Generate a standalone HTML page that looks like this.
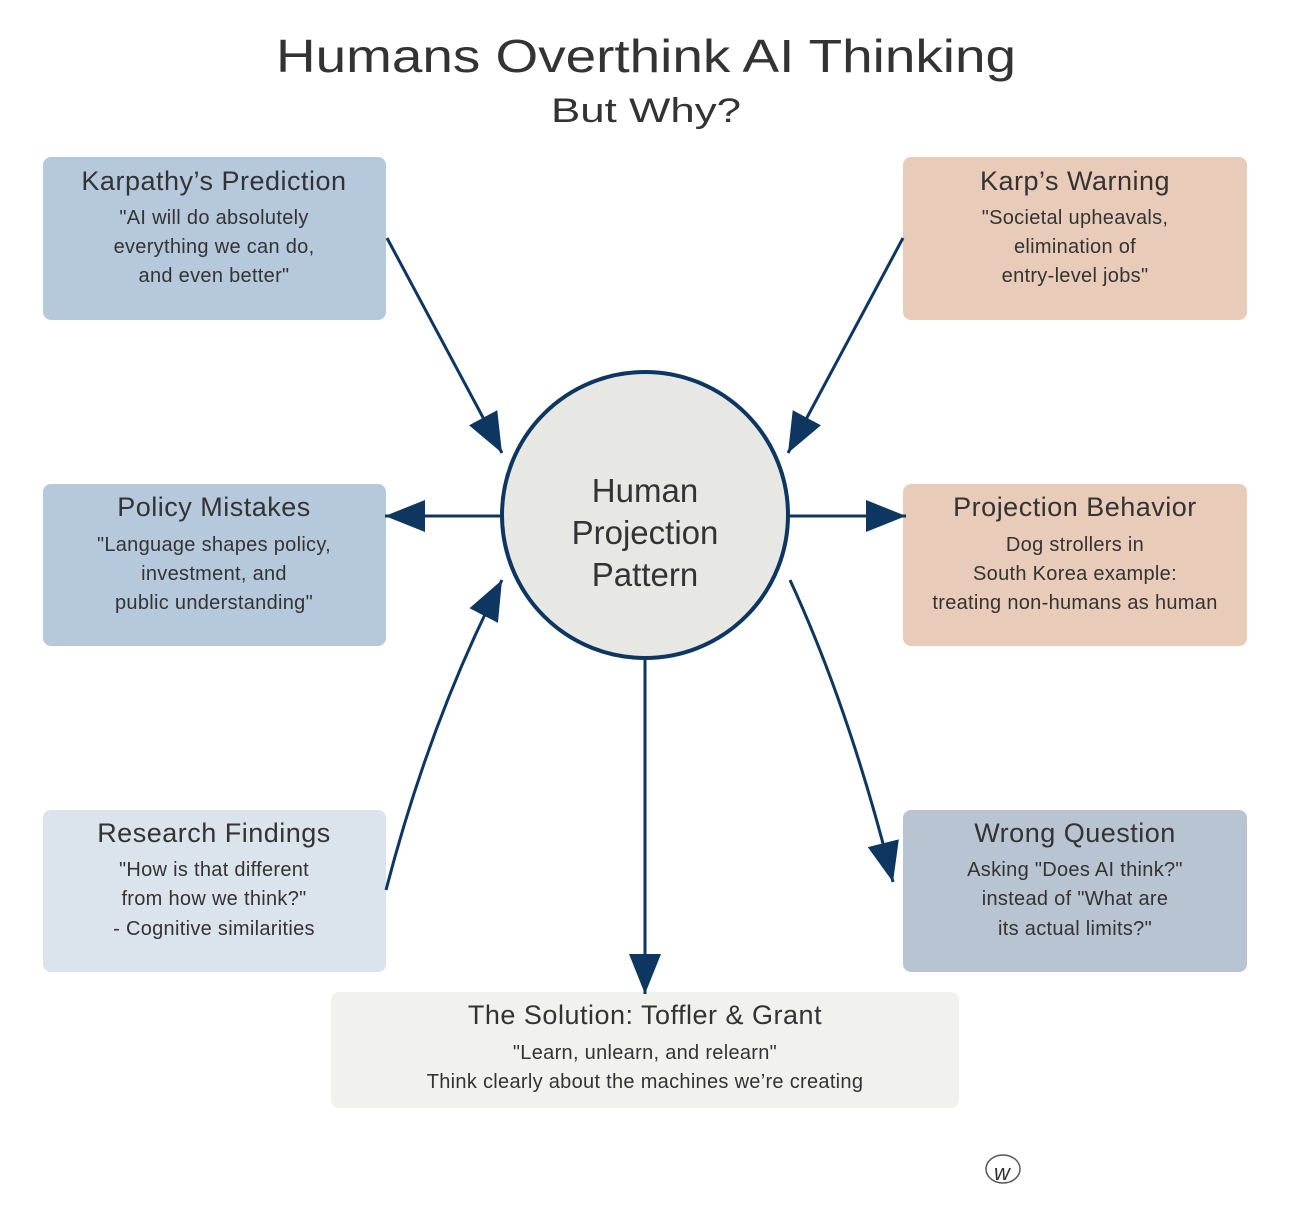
<!DOCTYPE html>
<html><head><meta charset="utf-8"><style>
body{margin:0;background:#fff;}
svg text{font-family:"Liberation Sans",sans-serif;fill:#333;text-anchor:middle;}
.h{font-size:27px;letter-spacing:0.5px;}
.b{font-size:20px;letter-spacing:0.3px;}
</style></head><body>
<svg width="1292" height="1205" viewBox="0 0 1292 1205" xmlns="http://www.w3.org/2000/svg">
<defs>
<marker id="m" viewBox="0 0 10 10" refX="10" refY="5" markerWidth="40" markerHeight="40" markerUnits="userSpaceOnUse" orient="auto"><path d="M0,1 L10,5 L0,9z" fill="#0d3660"/></marker></defs>
<text x="646" y="72" style="font-size:46px" fill="#222" textLength="740" lengthAdjust="spacingAndGlyphs">Humans Overthink AI Thinking</text>
<text x="646" y="122" style="font-size:34px" textLength="190" lengthAdjust="spacingAndGlyphs">But Why?</text>
<rect x="43" y="157" width="343" height="163" rx="8" fill="#b6c9dc"/>
<rect x="903" y="157" width="344" height="163" rx="8" fill="#e8cbb8"/>
<rect x="43" y="484" width="343" height="162" rx="8" fill="#b6c9dc"/>
<rect x="903" y="484" width="344" height="162" rx="8" fill="#e8cbb8"/>
<rect x="43" y="810" width="343" height="162" rx="8" fill="#dbe3ed"/>
<rect x="903" y="810" width="344" height="162" rx="8" fill="#b8c4d1"/>
<rect x="331" y="992" width="628" height="116" rx="8" fill="#f1f2ee"/>
<g stroke="#0d3660" stroke-width="3" fill="none" marker-end="url(#m)">
<line x1="387" y1="238" x2="502" y2="453"/>
<line x1="903" y1="238" x2="788" y2="453"/>
<line x1="501" y1="516" x2="385" y2="516"/>
<line x1="789" y1="516" x2="906" y2="516"/>
<path d="M386,890 Q430,720 502,580"/>
<path d="M790,580 Q850,710 893,882"/>
<line x1="645" y1="660" x2="645" y2="994"/>
</g>
<circle cx="645" cy="515" r="143" fill="#e7e8e4" stroke="#0d3660" stroke-width="4"/>
<text x="645" y="502" style="font-size:33px">Human</text>
<text x="645" y="544" style="font-size:33px">Projection</text>
<text x="645" y="586" style="font-size:33px">Pattern</text>
<text class="h" x="214" y="190">Karpathy’s Prediction</text>
<text class="b" x="214" y="224">"AI will do absolutely</text>
<text class="b" x="214" y="253">everything we can do,</text>
<text class="b" x="214" y="282">and even better"</text>
<text class="h" x="1075" y="190">Karp’s Warning</text>
<text class="b" x="1075" y="224">"Societal upheavals,</text>
<text class="b" x="1075" y="253">elimination of</text>
<text class="b" x="1075" y="282">entry-level jobs"</text>
<text class="h" x="214" y="516">Policy Mistakes</text>
<text class="b" x="214" y="551">"Language shapes policy,</text>
<text class="b" x="214" y="580">investment, and</text>
<text class="b" x="214" y="609">public understanding"</text>
<text class="h" x="1075" y="516">Projection Behavior</text>
<text class="b" x="1075" y="551">Dog strollers in</text>
<text class="b" x="1075" y="580">South Korea example:</text>
<text class="b" x="1075" y="609">treating non-humans as human</text>
<text class="h" x="214" y="842">Research Findings</text>
<text class="b" x="214" y="876">"How is that different</text>
<text class="b" x="214" y="905">from how we think?"</text>
<text class="b" x="214" y="935">- Cognitive similarities</text>
<text class="h" x="1075" y="842">Wrong Question</text>
<text class="b" x="1075" y="876">Asking "Does AI think?"</text>
<text class="b" x="1075" y="905">instead of "What are</text>
<text class="b" x="1075" y="935">its actual limits?"</text>
<text class="h" x="645" y="1024">The Solution: Toffler &amp; Grant</text>
<text class="b" x="645" y="1059">"Learn, unlearn, and relearn"</text>
<text class="b" x="645" y="1088">Think clearly about the machines we’re creating</text>
<text x="1002" y="1180" style="font-size:22px;font-style:italic" fill="#555">w</text>
<ellipse cx="1003" cy="1169" rx="17" ry="14" fill="none" stroke="#555" stroke-width="1.5"/>
</svg>
</body></html>
